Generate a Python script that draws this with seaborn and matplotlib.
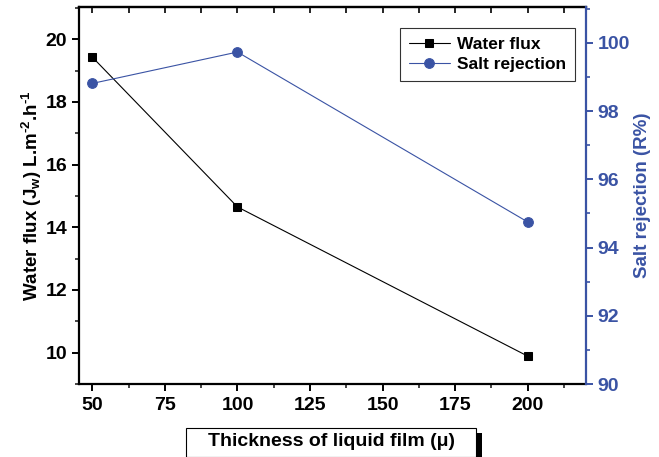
import matplotlib
matplotlib.use("Agg")
import matplotlib.pyplot as plt
from matplotlib.patches import Rectangle
from matplotlib.ticker import MultipleLocator
import seaborn as sns
import pandas as pd

thickness = [50, 100, 200]
water_flux = [19.43, 14.65, 9.89]
salt_rejection = [98.81, 99.73, 94.75]

sns.set_style("ticks")
plt.rcParams['font.family'] = ['Liberation Sans', 'DejaVu Sans']
plt.rcParams['font.weight'] = 'bold'
plt.rcParams['mathtext.fontset'] = 'custom'
plt.rcParams['mathtext.rm'] = 'Liberation Sans:bold'
plt.rcParams['mathtext.bf'] = 'Liberation Sans:bold'
plt.rcParams['mathtext.it'] = 'Liberation Sans:bold'
plt.rcParams['mathtext.default'] = 'bf'

BLUE = "#3A53A4"
TS = 14
df = pd.DataFrame({"t": thickness, "wf": water_flux, "sr": salt_rejection})

fig = plt.figure(figsize=(6.59, 4.57), dpi=100)
ax = fig.add_axes([79/659, 1-384/457, (585.7-79)/659, (384-7)/457])
ax2 = ax.twinx()

sns.lineplot(data=df, x="t", y="wf", ax=ax, color="black", marker="s", markersize=6,
             markeredgecolor="black", linewidth=0.8, label="Water flux", legend=False)
sns.lineplot(data=df, x="t", y="sr", ax=ax2, color=BLUE, marker="o", markersize=7,
             markeredgecolor=BLUE, linewidth=0.8, label="Salt rejection", legend=False)

ax.set_xlim(45.4, 220)
ax.set_ylim(9.0, 21.03)
ax2.set_ylim(90, 101.05)

ax.xaxis.set_major_locator(MultipleLocator(25))
ax.xaxis.set_minor_locator(MultipleLocator(12.5))
ax.yaxis.set_major_locator(MultipleLocator(2))
ax.yaxis.set_minor_locator(MultipleLocator(1))
ax2.yaxis.set_major_locator(MultipleLocator(2))
ax2.yaxis.set_minor_locator(MultipleLocator(1))

for s in ["left", "bottom", "top"]:
    ax.spines[s].set_linewidth(1.6)
    ax.spines[s].set_color("black")
ax2.spines["right"].set_linewidth(1.6)
ax2.spines["right"].set_color(BLUE)
for s in ["left", "bottom", "top"]:
    ax2.spines[s].set_visible(False)
ax.spines["right"].set_visible(False)

ax.tick_params(axis="both", which="major", direction="out", length=5, width=1.4,
               labelsize=TS, colors="black", labelcolor="black")
ax.tick_params(axis="both", which="minor", direction="out", length=3, width=1.2)
ax.tick_params(axis="x", which="both", top=False, bottom=True)
ax.tick_params(axis="x", which="major", pad=4)
top = ax.secondary_xaxis("top")
top.xaxis.set_major_locator(MultipleLocator(25))
top.xaxis.set_minor_locator(MultipleLocator(12.5))
top.tick_params(which="both", direction="in", length=4, width=1.4, labeltop=False)
top.spines["top"].set_linewidth(1.6)

ax2.tick_params(axis="y", which="major", direction="out", length=5, width=1.4,
                labelsize=TS, colors=BLUE, labelcolor=BLUE)
ax2.tick_params(axis="y", which="minor", direction="out", length=3, width=1.2, colors=BLUE)

for lbl in ax.get_xticklabels() + ax.get_yticklabels() + ax2.get_yticklabels():
    lbl.set_fontweight("bold")

ax.set_xlabel("")
ax.set_ylabel(r"Water flux (J$_{\text{w}}$) L.m$^{\text{-2}}$.h$^{\text{-1}}$",
              fontsize=13.5, fontweight="bold", color="black", labelpad=1)
ax2.set_ylabel("Salt rejection (R%)", fontsize=13.5, fontweight="bold", color=BLUE, labelpad=3)

h1, l1 = ax.get_legend_handles_labels()
h2, l2 = ax2.get_legend_handles_labels()
leg = ax2.legend(h1 + h2, l1 + l2, loc="upper right", bbox_to_anchor=(575/659, 1-28/457),
                 bbox_transform=fig.transFigure, frameon=True, fancybox=False,
                 edgecolor="black", prop={"weight": "bold", "size": 12.5},
                 handlelength=2.4, borderpad=0.5, labelspacing=0.3, handletextpad=0.4,
                 borderaxespad=0)
leg.get_frame().set_linewidth(0.8)
for t in leg.get_texts():
    t.set_color("black")

fig.patches.append(Rectangle((186/659, 0), (476-186)/659, (457-428)/457,
                             transform=fig.transFigure, facecolor="white",
                             edgecolor="black", linewidth=0.8, zorder=1))
fig.patches.append(Rectangle((476/659, 0), 6/659, (457-433)/457,
                             transform=fig.transFigure, facecolor="black",
                             edgecolor="none", zorder=1))
fig.text(331/659, 1-441.5/457, "Thickness of liquid film (μ)", ha="center", va="center",
         fontsize=14, fontweight="bold", color="black", zorder=2)

fig.savefig("out.png", dpi=100)
